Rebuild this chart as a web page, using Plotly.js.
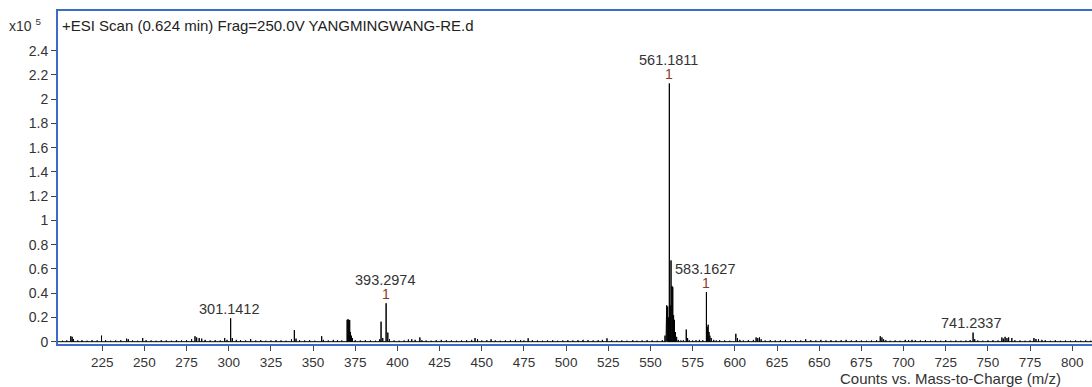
<!DOCTYPE html>
<html>
<head>
<meta charset="utf-8">
<script src="https://cdn.plot.ly/plotly-3.0.1.min.js"></script>
<style>
html,body{margin:0;padding:0;overflow:hidden;background:#fff;}
#chart{width:1118px;height:387px;}
</style>
</head>
<body>
<div id="chart"></div>
<script>
// m/z of each stick and its intensity (x10^5 counts)
const mz = [201.5,204,206.4,207.2,208,210.5,213,216,219,222,224.6,227,230,233,236,239.5,240.5,243,246,249,251,254,257,260,263,266,269,272,275,278,280,281,282.5,284,286,289,292,295,297.6,299,301.14,302.1,304.5,307,310,313,316,319,322,325,328,331,334,337.2,338.9,339.9,342,345,348,351,355.1,356.1,359,362,364.5,367,370.2,370.7,371.2,371.7,372.2,372.7,373.3,375,378,381,384,387,389.5,390.3,391.3,393.3,394.3,395.3,398,401,404,406.5,408.5,410.5,413.3,414.5,417,420,423,426,429,432,435,438,441,444,446,447.5,450,453,455.5,458,461,464,467,470,473,475,477.5,480,483,486,489,492,495,498,501,504,507,510,513,516,519,521.5,524.2,527,530,533,536,539.5,542,545,548,551,554,557,558.6,559.2,559.6,560.2,560.7,561.18,561.7,562.18,562.7,563.2,563.7,564.2,564.8,565.5,566.5,568,569.5,571.2,572,573,575,577,579,581,583.16,583.7,584.17,584.7,585.2,586,587.5,589,591,594,597,600.6,601.6,603,605,608,611,612.6,613.6,614.6,615.6,618,621,624,627,630,633,636,639,642,645,648,651,654,657,660,663,666,669,672,675,678,681,684,686.2,687.2,688.2,689.5,692,695,698,701,703,705,707,710,713,716,719,722,725,728,731,734,737,739.5,741.23,742.2,744,747,750,753,756,758.3,759.2,760.2,761.3,762.3,764.2,766,769,772,775,777.3,778.5,780,782,784,787,790,793,796,799,802,805,808,811];
const intensity = [0.008,0.01,0.045,0.04,0.02,0.01,0.012,0.008,0.012,0.01,0.05,0.012,0.008,0.01,0.012,0.025,0.02,0.01,0.008,0.03,0.012,0.01,0.008,0.012,0.01,0.008,0.012,0.01,0.012,0.02,0.045,0.035,0.03,0.025,0.015,0.01,0.012,0.01,0.03,0.015,0.193,0.03,0.015,0.012,0.01,0.022,0.01,0.012,0.008,0.01,0.012,0.01,0.008,0.02,0.096,0.025,0.012,0.01,0.012,0.008,0.045,0.015,0.01,0.015,0.012,0.01,0.18,0.185,0.18,0.178,0.08,0.05,0.03,0.012,0.01,0.012,0.01,0.008,0.02,0.165,0.03,0.317,0.075,0.02,0.01,0.008,0.01,0.018,0.02,0.015,0.035,0.012,0.01,0.008,0.012,0.015,0.012,0.01,0.008,0.01,0.012,0.015,0.03,0.02,0.01,0.012,0.02,0.01,0.008,0.01,0.012,0.015,0.012,0.01,0.028,0.012,0.01,0.008,0.01,0.012,0.008,0.01,0.012,0.01,0.012,0.015,0.012,0.01,0.012,0.015,0.028,0.01,0.008,0.01,0.008,0.012,0.008,0.01,0.012,0.01,0.008,0.012,0.05,0.28,0.30,0.29,0.2,2.13,0.3,0.67,0.46,0.45,0.22,0.18,0.08,0.04,0.015,0.01,0.012,0.1,0.03,0.012,0.01,0.012,0.015,0.012,0.41,0.12,0.14,0.08,0.05,0.03,0.015,0.01,0.012,0.01,0.008,0.065,0.03,0.015,0.01,0.012,0.015,0.035,0.03,0.035,0.02,0.01,0.012,0.01,0.012,0.015,0.01,0.012,0.01,0.02,0.012,0.01,0.015,0.01,0.012,0.01,0.012,0.015,0.01,0.012,0.01,0.008,0.01,0.012,0.045,0.035,0.02,0.012,0.008,0.01,0.008,0.015,0.012,0.015,0.012,0.01,0.012,0.008,0.01,0.008,0.012,0.008,0.01,0.008,0.01,0.012,0.075,0.02,0.01,0.008,0.01,0.012,0.01,0.035,0.025,0.04,0.03,0.035,0.03,0.012,0.01,0.008,0.01,0.03,0.022,0.02,0.015,0.012,0.008,0.012,0.008,0.01,0.008,0.01,0.008,0.01,0.008];

// labelled peaks
const labelMz = [301.14, 393.3, 561.18, 583.16, 741.23];
const labelText = ["301.1412", "393.2974", "561.1811", "583.1627", "741.2337"];
const labelCharge = ["", "1", "1", "1", ""];

const xTicks = [225,250,275,300,325,350,375,400,425,450,475,500,525,550,575,600,625,650,675,700,725,750,775,800];
const yTicks = [0,0.2,0.4,0.6,0.8,1,1.2,1.4,1.6,1.8,2,2.2,2.4];

const xRange = [198.8, 821.2];
const yRange = [-0.019, 2.727];

// build stick path along baseline
const sx = [xRange[0]], sy = [0];
for (let i = 0; i < mz.length; i++) {
  sx.push(mz[i], mz[i], mz[i]);
  sy.push(0, intensity[i], 0);
}
sx.push(xRange[1]); sy.push(0);

const ML = 58, MT = 11, MB = 43, MR = 10, W = 1118, H = 387;
const PW = W - ML - MR, PH = H - MT - MB;
const px2x = p => (p - ML) / PW;
const py2y = p => (H - MB - p) / PH;

const font = "Liberation Sans, Arial, sans-serif";
const annotations = [];
labelMz.forEach((m, i) => {
  const y = intensity[mz.indexOf(m)];
  if (labelCharge[i]) {
    annotations.push({x: m, y: y, xref: 'x', yref: 'y', text: labelCharge[i], showarrow: false,
      yanchor: 'middle', yshift: 9, font: {family: font, size: 14, color: '#8c3a26'}});
    annotations.push({x: m, y: y, xref: 'x', yref: 'y', text: labelText[i], showarrow: false,
      yanchor: 'middle', yshift: 23, xshift: -1, font: {family: font, size: 14.5, color: '#333'}});
  } else {
    annotations.push({x: m, y: y, xref: 'x', yref: 'y', text: labelText[i], showarrow: false,
      yanchor: 'middle', yshift: 9.5, xshift: -2, font: {family: font, size: 14.5, color: '#333'}});
  }
});
annotations.push({xref: 'paper', yref: 'paper', x: px2x(60), y: py2y(25), xanchor: 'left', yanchor: 'middle',
  text: '+ESI Scan (0.624 min) Frag=250.0V YANGMINGWANG-RE.d', showarrow: false,
  font: {family: font, size: 15, color: '#222'}});
annotations.push({xref: 'paper', yref: 'paper', x: px2x(7), y: py2y(25), xanchor: 'left', yanchor: 'middle',
  text: 'x10 <sup>5</sup>', showarrow: false, font: {family: font, size: 14, color: '#333'}});
annotations.push({xref: 'paper', yref: 'paper', x: px2x(950), y: py2y(378), xanchor: 'center', yanchor: 'middle',
  text: 'Counts vs. Mass-to-Charge (m/z)', showarrow: false, font: {family: font, size: 15, color: '#333'}});

const data = [{
  x: sx, y: sy, type: 'scatter', mode: 'lines',
  line: {color: '#000', width: 1}, hoverinfo: 'skip'
}];

const layout = {
  width: W, height: H,
  margin: {l: ML, r: MR, t: MT, b: MB, pad: 0},
  paper_bgcolor: '#fff', plot_bgcolor: '#fff',
  showlegend: false,
  font: {family: font, size: 13, color: '#333'},
  xaxis: {
    range: xRange, tickmode: 'array', tickvals: xTicks, ticktext: xTicks.map(String),
    showgrid: false, zeroline: false, showline: true, linecolor: '#3a6cc8', linewidth: 2,
    mirror: true, ticks: 'outside', ticklen: 5, tickcolor: '#444', tickwidth: 1,
    tickfont: {family: font, size: 13.5, color: '#333'}
  },
  yaxis: {
    range: yRange, tickmode: 'array', tickvals: yTicks, ticktext: yTicks.map(String),
    showgrid: false, zeroline: false, showline: true, linecolor: '#3a6cc8', linewidth: 2,
    ticks: 'outside', ticklen: 5, tickcolor: '#444', tickwidth: 1,
    tickfont: {family: font, size: 14, color: '#333'}
  },
  annotations: annotations
};

Plotly.newPlot('chart', data, layout, {displayModeBar: false, staticPlot: true});
</script>
</body>
</html>
